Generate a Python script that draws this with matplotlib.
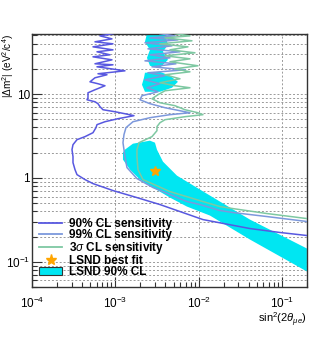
import matplotlib
matplotlib.use('Agg')
import matplotlib.pyplot as plt
import numpy as np
from matplotlib.lines import Line2D
from matplotlib.patches import Patch
from matplotlib.ticker import FixedLocator, FixedFormatter, NullFormatter

plt.rcParams['font.family'] = ['Liberation Sans', 'DejaVu Sans']
plt.rcParams['mathtext.fontset'] = 'custom'
plt.rcParams['mathtext.rm'] = 'Liberation Sans'
plt.rcParams['mathtext.it'] = 'Liberation Sans:italic'

# values, stored as log10 (both axes are logarithmic)
# 90% CL sensitivity
s90_lx = [-3.028, -3.184, -3.04, -3.244, -3.028, -3.268, -3.028, -3.22, -3.064, -3.268,
          -3.04, -3.244, -3.028, -3.22, -2.884, -3.208, -3.10, -3.244, -3.304, -3.208,
          -3.124, -3.244, -3.328, -3.328, -3.34, -3.244, -3.208, -3.184, -3.148, -3.004,
          -2.884, -2.776, -2.968, -3.124, -3.22, -3.232, -3.268, -3.364, -3.46, -3.508,
          -3.52, -3.508, -3.508, -3.484, -3.46, -3.364, -3.268, -3.028, -2.74, -2.464,
          -1.948, -1.384, -1.024, -0.70]
s90_ly = [1.72, 1.694, 1.658, 1.623, 1.599, 1.563, 1.527, 1.504, 1.468, 1.444,
          1.408, 1.361, 1.349, 1.325, 1.277, 1.242, 1.230, 1.194, 1.146, 1.123,
          1.099, 1.051, 1.015, 0.956, 0.932, 0.908, 0.885, 0.849, 0.813, 0.789,
          0.765, 0.742, 0.706, 0.670, 0.635, 0.599, 0.539, 0.492, 0.456, 0.396,
          0.337, 0.254, 0.182, 0.099, 0.039, -0.020, -0.068, -0.151, -0.235, -0.318,
          -0.497, -0.604, -0.651, -0.687]

# 99% CL sensitivity
s99_lx = [-2.464, -2.284, -2.584, -2.248, -2.644, -2.32, -2.608, -2.224, -2.584, -2.344,
          -2.644, -2.272, -2.56, -2.164, -2.608, -2.404, -2.644, -2.464, -2.62, -2.488,
          -2.68, -2.704, -2.584, -2.404, -2.224, -2.104, -2.344, -2.584, -2.788, -2.872,
          -2.896, -2.908, -2.884, -2.86, -2.74, -2.548, -2.14, -1.984, -1.744, -1.588,
          -1.18, -0.70]
s99_ly = [1.72, 1.694, 1.670, 1.646, 1.611, 1.575, 1.539, 1.504, 1.468, 1.432,
          1.396, 1.361, 1.325, 1.289, 1.254, 1.218, 1.170, 1.123, 1.075, 1.027,
          0.980, 0.932, 0.885, 0.837, 0.801, 0.777, 0.754, 0.718, 0.670, 0.599,
          0.516, 0.420, 0.254, 0.123, -0.008, -0.115, -0.282, -0.318, -0.389, -0.413,
          -0.461, -0.520]

# 3 sigma CL sensitivity
s3s_lx = [-2.284, -2.104, -2.404, -2.08, -2.464, -2.128, -2.344, -2.044, -2.404, -2.104,
          -2.344, -2.008, -2.284, -2.104, -2.404, -2.224, -2.464, -2.284, -2.104, -2.404,
          -2.488, -2.56, -2.464, -2.284, -2.164, -2.008, -1.948, -2.164, -2.404, -2.464,
          -2.50, -2.50, -2.56, -2.716, -2.74, -2.74, -2.728, -2.668, -2.344, -1.948,
          -1.744, -1.588, -1.18, -0.70]
s3s_ly = [1.72, 1.694, 1.670, 1.635, 1.599, 1.563, 1.527, 1.492, 1.456, 1.420,
          1.385, 1.337, 1.301, 1.265, 1.230, 1.182, 1.135, 1.099, 1.075, 1.039,
          0.992, 0.944, 0.896, 0.861, 0.813, 0.777, 0.754, 0.730, 0.694, 0.658,
          0.611, 0.563, 0.492, 0.420, 0.337, 0.254, 0.099, -0.020, -0.163, -0.282,
          -0.342, -0.366, -0.425, -0.485]

# LSND 90% CL allowed region (main band + two islands at high dm2)
lsnd_lx = [-2.884, -2.788, -2.584, -2.524, -2.50, -2.428, -2.26, -1.984, -1.384, -0.70,
           -0.70, -1.384, -1.864, -2.14, -2.344, -2.548, -2.704, -2.824, -2.908, -2.908]
lsnd_ly = [0.337, 0.408, 0.444, 0.420, 0.337, 0.194, 0.027, -0.139, -0.497, -0.842,
           -1.116, -0.735, -0.449, -0.342, -0.235, -0.115, -0.020, 0.099, 0.218, 0.301]
isl1_lx = [-2.62, -2.404, -2.368, -2.428, -2.368, -2.464, -2.584, -2.62, -2.584, -2.644]
isl1_ly = [1.72, 1.72, 1.587, 1.504, 1.408, 1.313, 1.337, 1.432, 1.527, 1.623]
isl2_lx = [-2.644, -2.464, -2.344, -2.248, -2.32, -2.464, -2.644, -2.68, -2.656]
isl2_ly = [1.254, 1.265, 1.218, 1.146, 1.075, 1.027, 1.027, 1.111, 1.194]

best_fit = (0.003, 1.2)

c90 = '#5858e0'
c99 = '#7c98dc'
c3s = '#7ec8a2'
ccy = '#00e6f2'

fig = plt.figure(figsize=(3.15, 3.39), dpi=100)
ax = fig.add_axes([0.1016, 0.1534, 0.873, 0.7463])
ax.set_xscale('log')
ax.set_yscale('log')

p = lambda a: 10 ** np.array(a)
for lx, ly in [(lsnd_lx, lsnd_ly), (isl1_lx, isl1_ly), (isl2_lx, isl2_ly)]:
    ax.fill(p(lx), p(ly), color=ccy, lw=0, zorder=2)

ax.plot(p(s90_lx), p(s90_ly), color=c90, lw=1.1, zorder=4)
ax.plot(p(s99_lx), p(s99_ly), color=c99, lw=1.1, zorder=3)
ax.plot(p(s3s_lx), p(s3s_ly), color=c3s, lw=1.1, zorder=3)
ax.plot(*best_fit, marker='*', color='#ffa500', ms=7, ls='none', zorder=5)

ax.set_xlim(1e-4, 0.2)
ax.set_ylim(0.05, 52)

# ticks in ROOT style
ax.xaxis.set_major_locator(FixedLocator([1e-4, 1e-3, 1e-2, 1e-1]))
ax.xaxis.set_major_formatter(FixedFormatter(['$10^{-4}$', '$10^{-3}$', '$10^{-2}$', '$10^{-1}$']))
ax.yaxis.set_major_locator(FixedLocator([0.1, 1, 10]))
ax.yaxis.set_major_formatter(FixedFormatter(['$10^{-1}$', '1', '10']))
ax.yaxis.set_minor_formatter(NullFormatter())
ax.xaxis.set_minor_formatter(NullFormatter())
ax.tick_params(which='both', direction='in', top=False, right=False, labelsize=8.5,
               color='#333333')
ax.tick_params(which='major', length=7, width=0.8)
ax.tick_params(which='minor', length=3.5, width=0.8)
ax.tick_params(axis='x', which='major', pad=6)
ax.tick_params(axis='y', which='major', pad=1.5)
for s in ax.spines.values():
    s.set_color('#333333')
    s.set_linewidth(1.0)

ax.grid(which='major', axis='x', linestyle=(0, (2, 2)), color='#9a9a9a', linewidth=0.7, zorder=0)
ax.grid(which='both', axis='y', linestyle=(0, (2, 2)), color='#9a9a9a', linewidth=0.7, zorder=0)
ax.set_axisbelow(True)

ax.set_xlabel(r'sin$^2$(2$\theta_{\mu e}$)', fontsize=8, ha='right', x=1.0, labelpad=0)
ax.set_ylabel(r'|$\Delta$m$^2$| (eV$^2$/c$^4$)', fontsize=7.2, ha='right')
ax.yaxis.set_label_coords(-0.058, 1.0)

handles = [Line2D([], [], color=c90, lw=1.3),
           Line2D([], [], color=c99, lw=1.3),
           Line2D([], [], color=c3s, lw=1.3),
           Line2D([], [], color='#ffa500', marker='*', ms=8, ls='none'),
           Patch(facecolor=ccy, edgecolor='#333333', lw=0.8)]
labels = ['90% CL sensitivity', '99% CL sensitivity', r'3$\sigma$ CL sensitivity',
          'LSND best fit', 'LSND 90% CL']
ax.legend(handles, labels, loc='lower left', bbox_to_anchor=(0.025, 0.035), frameon=False,
          prop={'size': 8.5, 'weight': 'bold'}, handlelength=2.0, handletextpad=0.55,
          labelspacing=-0.08, borderpad=0, borderaxespad=0)

fig.savefig('out.png', dpi=100)
